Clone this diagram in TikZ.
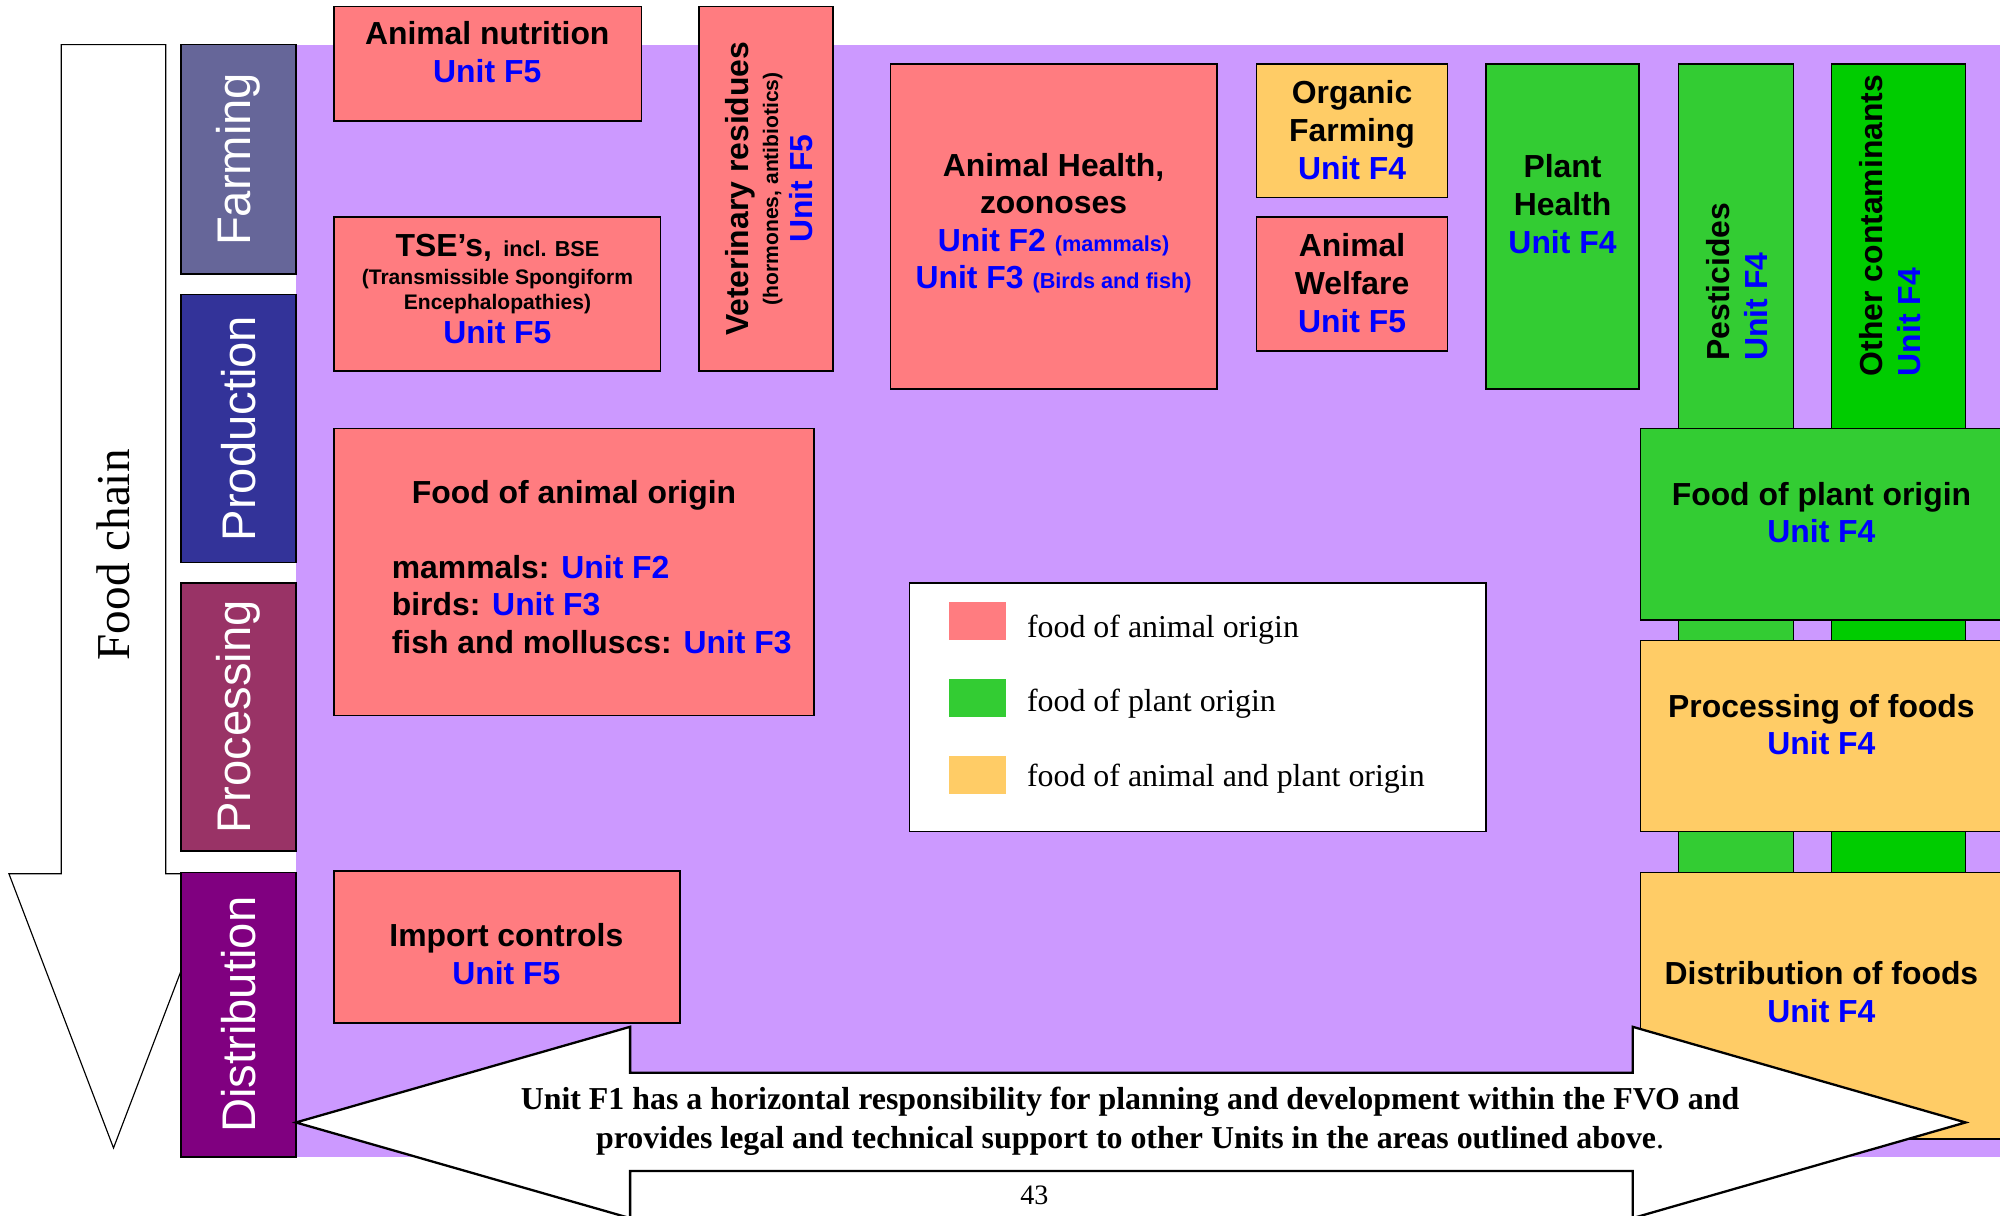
\documentclass[tikz,border=0pt]{standalone}
\usepackage{fontspec}
\setmainfont{Liberation Serif}
\setsansfont{Liberation Sans}
\definecolor{salmon}{HTML}{FF7C80}
\definecolor{orng}{HTML}{FFCC66}
\definecolor{grn}{HTML}{33CC33}
\definecolor{dgrn}{HTML}{00CC00}
\definecolor{lilac}{HTML}{CC99FF}
\definecolor{farmc}{HTML}{666699}
\definecolor{prodc}{HTML}{333399}
\definecolor{procc}{HTML}{993366}
\definecolor{distc}{HTML}{800080}
\definecolor{unitblue}{HTML}{0000FF}
\newcommand{\unitb}[1]{\textcolor{unitblue}{#1}}
\newcommand{\smallfs}{\fontsize{16.5}{20}\selectfont}
\newcommand{\mkbox}[6]{\node[box, fill=#6, minimum width={(#4-#2)*1pt}, minimum height={(#5-#3)*1pt}] (#1) at ({(#2+#4)/2},{(#3+#5)/2}) {};}
\tikzset{
  box/.style={draw=black, line width=1.2pt, inner sep=0pt, outer sep=0pt, rectangle},
  lbl/.style={font={\sffamily\bfseries\fontsize{25}{29.5}\selectfont}, align=center, inner sep=0pt},
  vlbl/.style={font={\sffamily\bfseries\fontsize{25}{29.5}\selectfont}, rotate=90, inner sep=0pt},
  stage/.style={font={\sffamily\fontsize{37}{40}\selectfont}, text=white, rotate=90, inner sep=0pt},
  legtxt/.style={font={\rmfamily\fontsize{25}{29}\selectfont}, anchor=west, inner sep=0pt},
  swatch/.style={inner sep=0pt, outer sep=0pt, minimum width=45pt, minimum height=30pt},
}
\begin{document}
\begin{tikzpicture}[x=1pt,y=-1pt]
\useasboundingbox (0,0) rectangle (1568,953);
\clip (0,0) rectangle (1568,953);
\fill[white] (0,0) rectangle (1568,953);

% food chain arrow
\draw[fill=white, line width=0.9pt, line join=miter] (48,35) -- (130,35) -- (130,685) -- (171,685) -- (89,900) -- (7,685) -- (48,685) -- cycle;
\node[font={\rmfamily\fontsize{37}{40}\selectfont}, rotate=90, inner sep=0pt] (fc) at (89,435) {Food chain};

% purple background
\fill[lilac] (232,35) rectangle (1568,907);

% stages
\mkbox{farm}{142}{35}{232}{215}{farmc}
\mkbox{prod}{142}{231}{232}{441}{prodc}
\mkbox{proc}{142}{457}{232}{667}{procc}
\mkbox{dist}{142}{684}{232}{907}{distc}
\node[stage] (farmt) at (farm.center) {Farming};
\node[stage] (prodt) at (prod.center) {Production};
\node[stage] (proct) at (proc.center) {Processing};
\node[stage] (distt) at (dist.center) {Distribution};

% boxes
\mkbox{an}{262}{5}{503}{95}{salmon}
\mkbox{tse}{262}{170}{518}{291}{salmon}
\mkbox{vet}{548}{5}{653}{291}{salmon}
\mkbox{ah}{698}{50}{954}{305}{salmon}
\mkbox{org}{985}{50}{1135}{155}{orng}
\mkbox{aw}{985}{170}{1135}{275}{salmon}
\mkbox{ph}{1165}{50}{1285}{305}{grn}
\mkbox{pest}{1316}{50}{1406}{760}{grn}
\mkbox{oth}{1436}{50}{1541}{760}{dgrn}
\mkbox{fao}{262}{336}{638}{561}{salmon}
\mkbox{fpo}{1286}{336}{1600}{486}{grn}
\mkbox{pof}{1286}{502}{1600}{652}{orng}
\mkbox{dof}{1286}{684}{1600}{893}{orng}
\mkbox{imp}{262}{683}{533}{802}{salmon}
\mkbox{leg}{713}{457}{1165}{652}{white}

% legend
\node[swatch, fill=salmon] (sw1) at (766.5,487) {};
\node[swatch, fill=grn] (sw2) at (766.5,547.5) {};
\node[swatch, fill=orng] (sw3) at (766.5,607.5) {};
\node[legtxt] (lt1) at (805,493.5) {food of animal origin};
\node[legtxt] (lt2) at (805,551.5) {food of plant origin};
\node[legtxt] (lt3) at (805,610.5) {food of animal and plant origin};

% labels
\node[lbl] (ant) at (382,41) {Animal nutrition\\\unitb{Unit F5}};
\node[lbl, anchor=base] (tse1) at (390,201) {TSE’s,\hspace{9pt}{\fontsize{17}{20}\selectfont incl. BSE}};
\node[lbl, anchor=base, font={\sffamily\bfseries\smallfs}] (tse2) at (390,223) {(Transmissible Spongiform};
\node[lbl, anchor=base, font={\sffamily\bfseries\smallfs}] (tse3) at (390,243) {Encephalopathies)};
\node[lbl, anchor=base] (tse4) at (390,269) {\unitb{Unit F5}};

\node[vlbl, anchor=base] (vet1) at (587,148) {Veterinary residues};
\node[vlbl, anchor=base, font={\sffamily\bfseries\smallfs}] (vet2) at (610,148) {(hormones, antibiotics)};
\node[vlbl, anchor=base] (vet3) at (637,148) {\unitb{Unit F5}};

\node[lbl] (aht) at (826,175) {Animal Health,\\zoonoses\\\unitb{Unit F2 {\fontsize{17}{20}\selectfont(mammals)}}\\\unitb{Unit F3 {\fontsize{17}{20}\selectfont(Birds and fish)}}};
\node[lbl] (orgt) at (1060,102) {Organic\\Farming\\\unitb{Unit F4}};
\node[lbl] (awt) at (1060,222) {Animal\\Welfare\\\unitb{Unit F5}};
\node[lbl] (pht) at (1225,160) {Plant\\Health\\\unitb{Unit F4}};
\node[vlbl, align=left, anchor=west] (pestt) at (1362,283) {Pesticides\\\unitb{Unit F4}};
\node[vlbl, align=left, anchor=west] (otht) at (1482,295) {Other contaminants\\\unitb{Unit F4}};

\node[lbl] (faot) at (450,388) {Food of animal origin};
\node[lbl, align=left, anchor=west] (faol) at (307,474) {mammals: \unitb{Unit F2}\\birds: \unitb{Unit F3}\\fish and molluscs: \unitb{Unit F3}};

\node[lbl] (fpot) at (1428,402) {Food of plant origin\\\unitb{Unit F4}};
\node[lbl] (poft) at (1428,568) {Processing of foods\\\unitb{Unit F4}};
\node[lbl] (doft) at (1428,778) {Distribution of foods\\\unitb{Unit F4}};
\node[lbl] (impt) at (397,748) {Import controls\\\unitb{Unit F5}};

% horizontal double arrow
\draw[fill=white, line width=1.8pt, line join=miter] (232,880) -- (494,805) -- (494,841) -- (1280,841) -- (1280,805) -- (1541,880) -- (1280,955) -- (1280,918) -- (494,918) -- (494,955) -- cycle;
\node[font={\rmfamily\bfseries\fontsize{25}{30}\selectfont}, align=center, inner sep=0pt] (f1t) at (886,879) {Unit F1 has a horizontal responsibility for planning and development within the FVO and\\provides legal and technical support to other Units in the areas outlined above{\mdseries.}};
\node[font={\rmfamily\fontsize{22}{24}\selectfont}, inner sep=0pt] (pg) at (811,937) {43};
\end{tikzpicture}
\end{document}
